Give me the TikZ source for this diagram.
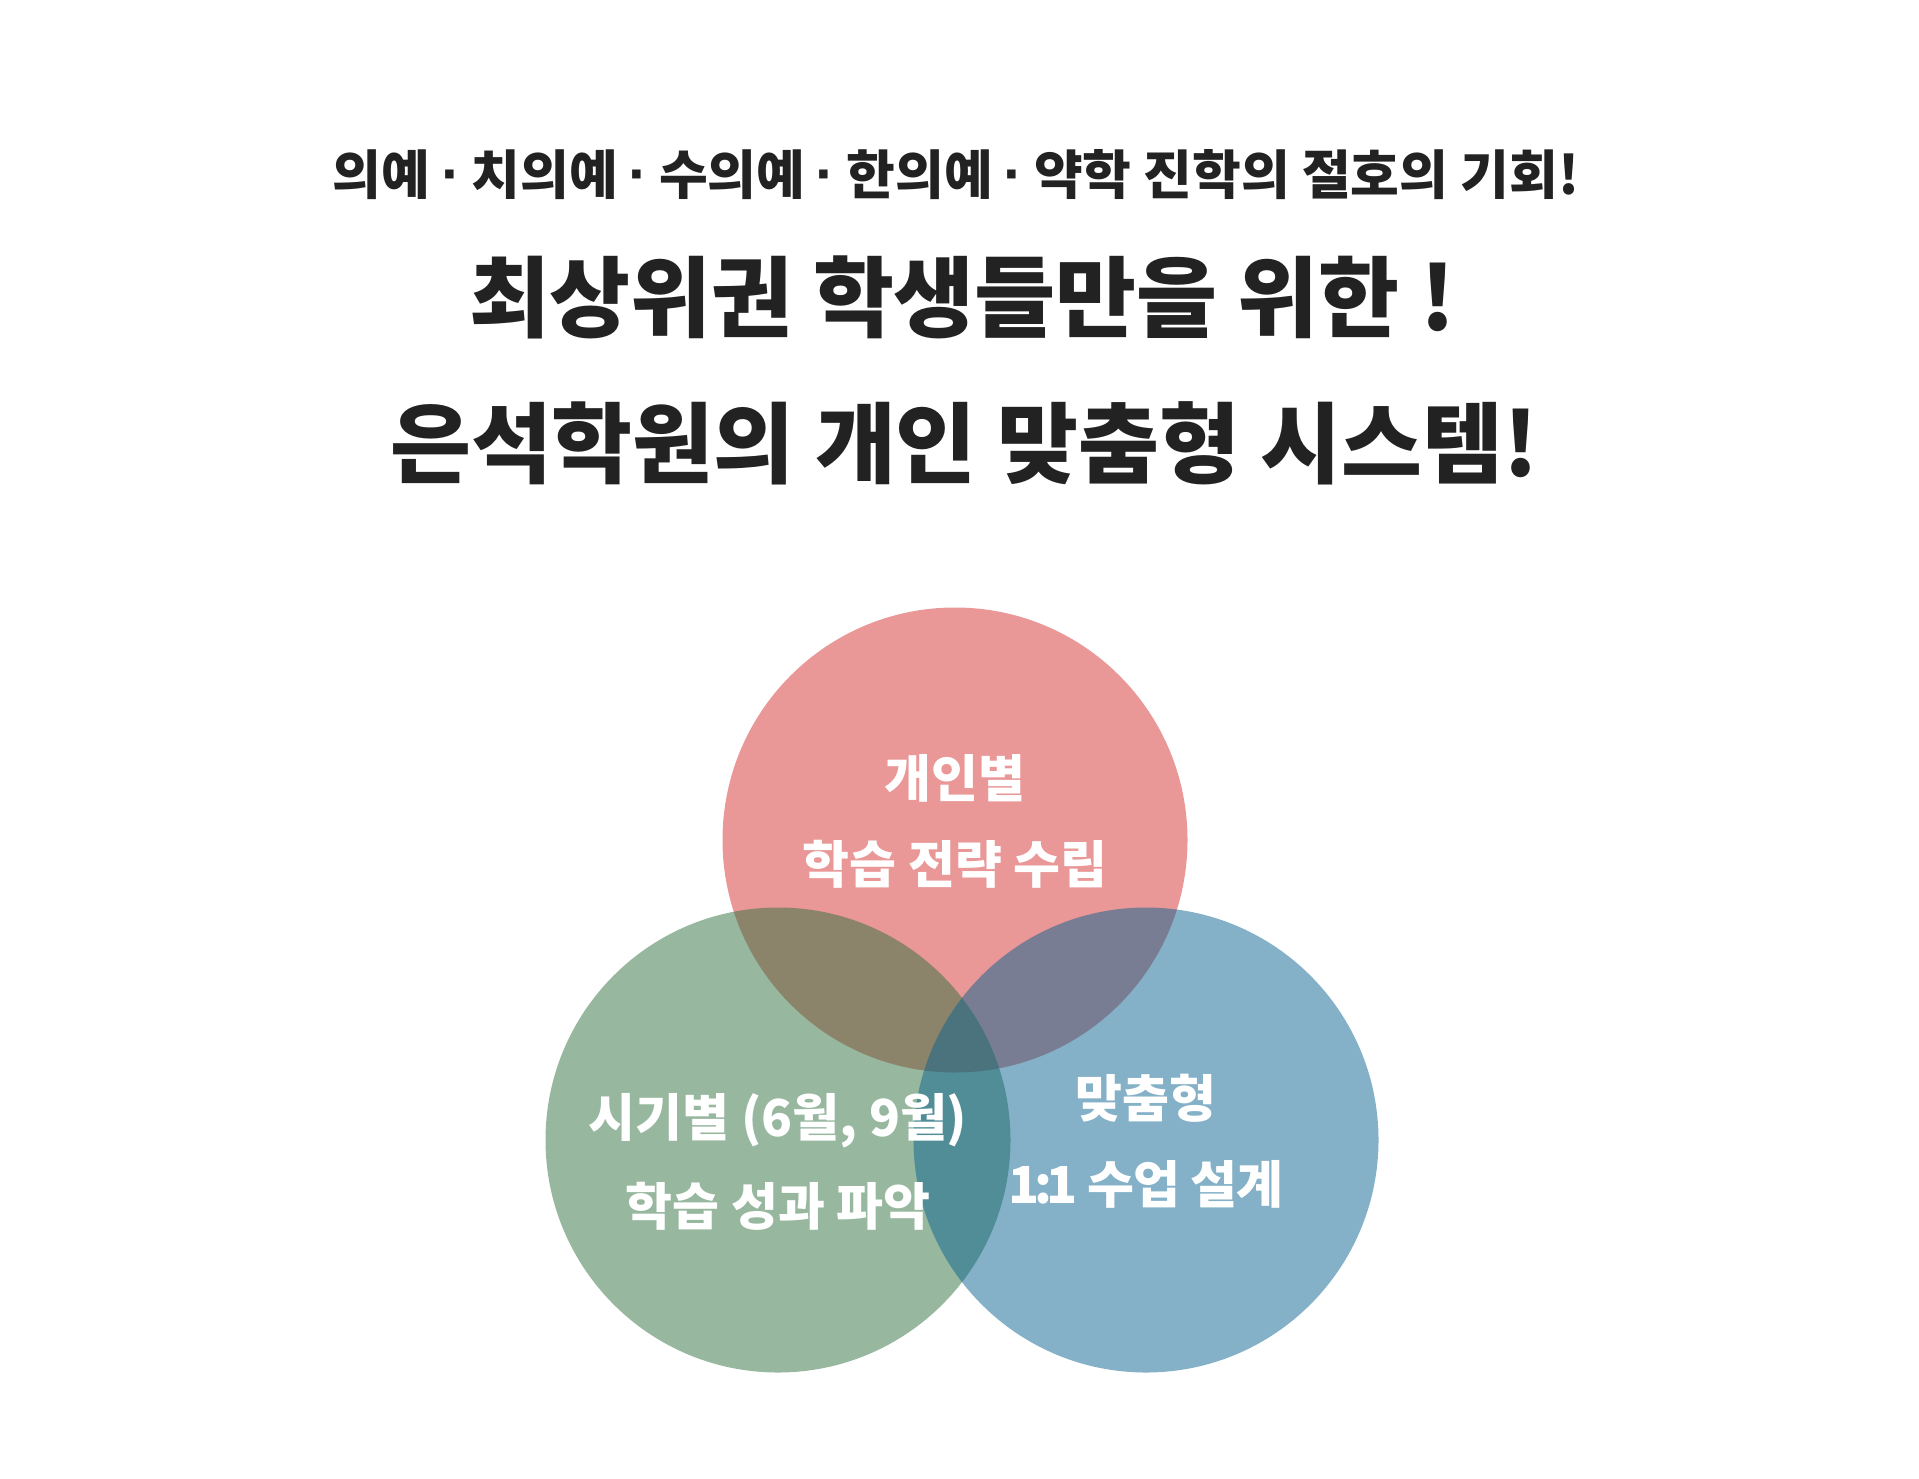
\documentclass[tikz,border=0pt]{standalone}
\usepackage{fontspec}
\setmainfont{Noto Sans CJK KR}
\newfontfamily\krblack{Noto Sans CJK KR Black}
\newfontfamily\lat{Liberation Sans}
\definecolor{txt}{RGB}{34,34,34}
\definecolor{cpink}{RGB}{213,49,49}
\definecolor{cgreen}{RGB}{49,113,65}
\definecolor{cblue}{RGB}{11,101,145}
\newcommand{\mdot}{\hspace{0.2em}{\lat\bfseries\fontsize{60}{60}\selectfont ·}\hspace{0.2em}}
\begin{document}
\begin{tikzpicture}[x=1pt,y=-1pt,
  venn/.style={circle,minimum size=465pt,inner sep=0pt,fill opacity=0.5},
  title/.style={text=txt,font=\krblack\fontsize{88}{88}\selectfont,inner sep=0pt,anchor=center},
  sub/.style={text=txt,font=\bfseries\fontsize{53}{53}\selectfont,inner sep=0pt,anchor=center},
  lbl/.style={text=white,font=\bfseries\fontsize{51}{51}\selectfont,inner sep=0pt,anchor=center,text opacity=1}]
\useasboundingbox[fill=white] (0,0) rectangle (1919,1478);
\node[sub] (t1) at (956,175) {의예\mdot 치의예\mdot 수의예\mdot 한의예\mdot 약학 진학의 절호의 기회!};
\node[title] (t2) at (962,297) {최상위권 학생들만을 위한 !};
\node[title] (t3) at (964,443) {은석학원의 개인 맞춤형 시스템!};
\node[venn,fill=cpink] (cp) at (955,840) {};
\node[venn,fill=cgreen] (cg) at (778,1140) {};
\node[venn,fill=cblue] (cb) at (1146,1140) {};
\node[lbl] (p1) at (955,778) {개인별};
\node[lbl] (p2) at (955,864) {학습 전략 수립};
\node[lbl] (g1) at (778,1121) {시기별 (6월, 9월)};
\node[lbl] (g2) at (778,1206) {학습 성과 파악};
\node[lbl] (b1) at (1146,1098) {맞춤형};
\node[lbl] (b2) at (1146,1184) {1\kern-0.1em:\kern-0.1em1\hspace{0.18em}수업\hspace{0.18em}설계};
\end{tikzpicture}
\end{document}
